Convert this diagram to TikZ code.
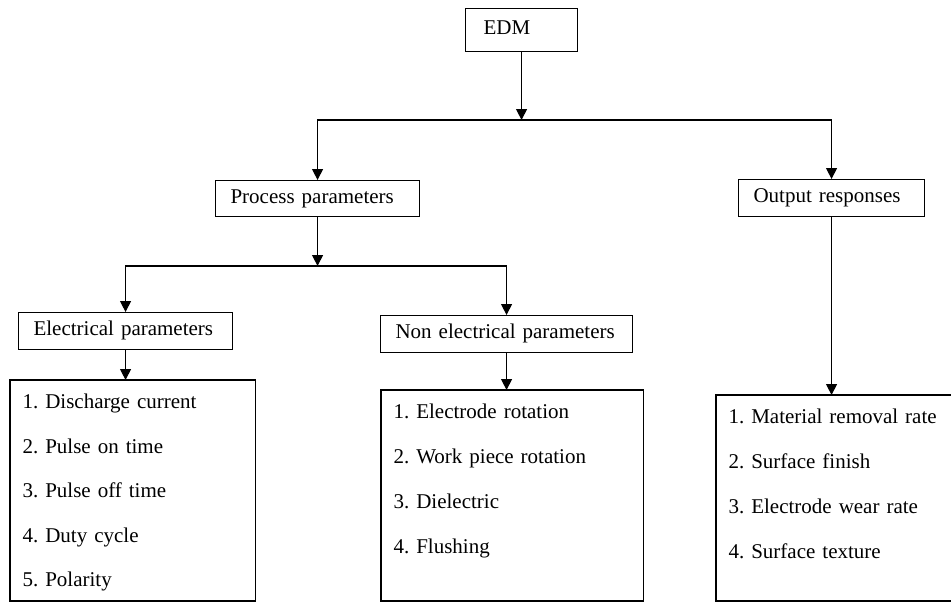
\documentclass[tikz,border=0pt]{standalone}
\usepackage{fontspec}
\setmainfont{Liberation Serif}
\usetikzlibrary{positioning,arrows.meta}
\frenchspacing

\begin{document}
\begin{tikzpicture}[%
    x=1pt,
    y=-1pt,
    line width=1.1pt,
    >={Triangle[length=11pt,width=11pt]},
    font=\fontsize{21}{45}\selectfont,
    head/.style={%
      rectangle,
      draw,
      anchor=north west,
      align=left,
      inner xsep=15pt,
      inner ysep=0pt,
      minimum height=37pt,
      text height=14.3pt,
      text depth=4.6pt
    },
    items/.style={%
      rectangle,
      anchor=north west,
      align=left,
      inner xsep=12pt,
      inner ysep=13.7pt
    }
  ]
    \useasboundingbox (0,0) rectangle (951,602);
    \clip (0,0) rectangle (951,602);

    % headings
    \node[head, text width=76pt, inner xsep=18pt, minimum height=43pt] (edm) at (465,8) {EDM};
    \node[head, text width=174pt, minimum height=36pt] (proc) at (215,180) {Process parameters};
    \node[head, text width=156pt] (out) at (738,179) {Output responses};
    \node[head, text width=184pt] (elec) at (18,312) {Electrical parameters};
    \node[head, text width=222pt] (nonelec) at (380,315) {Non electrical parameters};

    % lists
    \node[items, text width=220pt, font=\fontsize{21}{44.5}\selectfont] (elist) at (10,380)
      {1. Discharge current\\ 2. Pulse on time\\ 3. Pulse off time\\ 4. Duty cycle\\ 5. Polarity};
    \node[items, text width=237pt] (nlist) at (381,390)
      {1. Electrode rotation\\ 2. Work piece rotation\\ 3. Dielectric\\ 4. Flushing};
    \node[items, text width=220pt] (olist) at (716,395)
      {1. Material removal rate\\ 2. Surface finish\\ 3. Electrode wear rate\\ 4. Surface texture};

    \coordinate (floor) at (0,601);
    \draw (elist.north west) rectangle (elist.north east |- floor);
    \draw (nlist.north west) rectangle (nlist.north east |- floor);
    \draw (olist.north west) rectangle (olist.north east |- floor);

    % connectors
    \coordinate (bus1) at (edm.south |- 0,120);
    \coordinate (bus2) at (proc.south |- 0,266);
    \draw[->] (edm.south) -- (bus1);
    \draw[->] (bus1) -| (proc.north);
    \draw[->] (bus1) -| (out.north);
    \draw[->] (proc.south) -- (bus2);
    \draw[->] (bus2) -| (elec.north);
    \draw[->] (bus2) -| (nonelec.north);
    \draw[->] (elec.south) -- (elec.south |- elist.north);
    \draw[->] (nonelec.south) -- (nonelec.south |- nlist.north);
    \draw[->] (out.south) -- (out.south |- olist.north);
  \end{tikzpicture}
\end{document}
